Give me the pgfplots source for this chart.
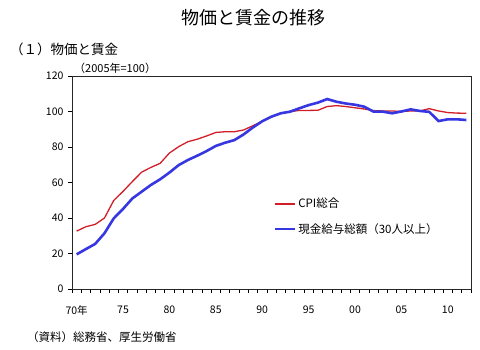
\documentclass[border=0pt]{standalone}
\usepackage{fontspec}
\setmainfont{Noto Sans CJK JP}
\usepackage{pgfplots}
\usepackage{pgfplotstable}
\pgfplotsset{compat=1.18}
\definecolor{cpired}{RGB}{210,30,40}
\definecolor{wageblue}{RGB}{55,55,225}

\pgfplotstableread{
year val
1970 32.6
1971 35.1
1972 36.4
1973 40.0
1974 49.9
1975 55.0
1976 60.5
1977 65.8
1978 68.5
1979 70.8
1980 76.6
1981 80.2
1982 83.0
1983 84.4
1984 86.2
1985 88.2
1986 88.6
1987 88.6
1988 89.6
1989 92.0
1990 94.5
1991 97.1
1992 99.0
1993 99.9
1994 100.6
1995 100.6
1996 100.7
1997 102.8
1998 103.3
1999 102.8
2000 102.1
2001 101.4
2002 100.5
2003 100.3
2004 100.3
2005 100.0
2006 100.3
2007 100.3
2008 101.6
2009 100.3
2010 99.4
2011 99.1
2012 99.0
}\cpidata

\pgfplotstableread{
year val
1970 19.5
1971 22.5
1972 25.4
1973 31.4
1974 39.8
1975 45.1
1976 51.0
1977 54.8
1978 58.6
1979 61.8
1980 65.6
1981 69.8
1982 72.7
1983 75.1
1984 77.7
1985 80.6
1986 82.4
1987 83.9
1988 87.1
1989 91.0
1990 94.5
1991 97.1
1992 99.0
1993 99.9
1994 101.8
1995 103.6
1996 105.0
1997 107.0
1998 105.5
1999 104.5
2000 103.8
2001 102.7
2002 99.9
2003 99.9
2004 99.0
2005 100.0
2006 101.2
2007 100.3
2008 99.8
2009 94.6
2010 95.6
2011 95.6
2012 95.2
}\wagedata

\begin{document}
\begin{tikzpicture}
\useasboundingbox (0pt,0pt) rectangle (480pt,350pt);
\begin{axis}[
  at={(72pt,61pt)}, anchor=south west,
  width=399pt, height=213pt, scale only axis,
  xmin=1969.5, xmax=2012.5, ymin=0, ymax=120,
  ytick={0,20,...,120},
  xtick={1970,1975,...,2010},
  xticklabels={70年,75,80,85,90,95,00,05,10},
  minor xtick={1969.5,1970.5,...,2012.5},
  tick pos=left, tick align=outside,
  major tick length=4pt, minor tick length=4pt,
  major x tick style={draw=none},
  tick style={black, line width=0.6pt},
  axis line style={black!85, line width=0.7pt},
  /pgf/number format/assume math mode=true,
  yticklabel style={font=\fontsize{10.5}{12}\selectfont, xshift=-1pt},
  xticklabel style={font=\fontsize{10.5}{12}\selectfont, yshift=-9pt},
  scaled ticks=false,
  legend style={at={(0.505,0.34)}, anchor=west, draw=none, fill=none,
    inner sep=0pt, row sep=10pt, font=\fontsize{11.5}{13}\selectfont},
  legend cell align=left,
  legend image code/.code={\draw[#1] (0pt,0pt) -- (20pt,0pt);},
]
\addplot[cpired, line width=1.3pt, mark=none] table[x=year,y=val] {\cpidata};
\addlegendentry{CPI総合}
\addplot[wageblue, line width=2.6pt, mark=none] table[x=year,y=val] {\wagedata};
\addlegendentry{現金給与総額（30人以上）}
\end{axis}
\node[font=\fontsize{18}{21}\selectfont] at (253pt,332pt) {物価と賃金の推移};
\node[anchor=west, inner sep=0pt, font=\fontsize{13.5}{15}\selectfont] at (10pt,301pt) {（１）物価と賃金};
\node[anchor=west, inner sep=0pt, font=\fontsize{11}{12}\selectfont] at (74pt,282pt) {（2005年=100）};
\node[anchor=west, inner sep=0pt, font=\fontsize{11.5}{13}\selectfont] at (27pt,13pt) {（資料）総務省、厚生労働省};
\end{tikzpicture}
\end{document}
